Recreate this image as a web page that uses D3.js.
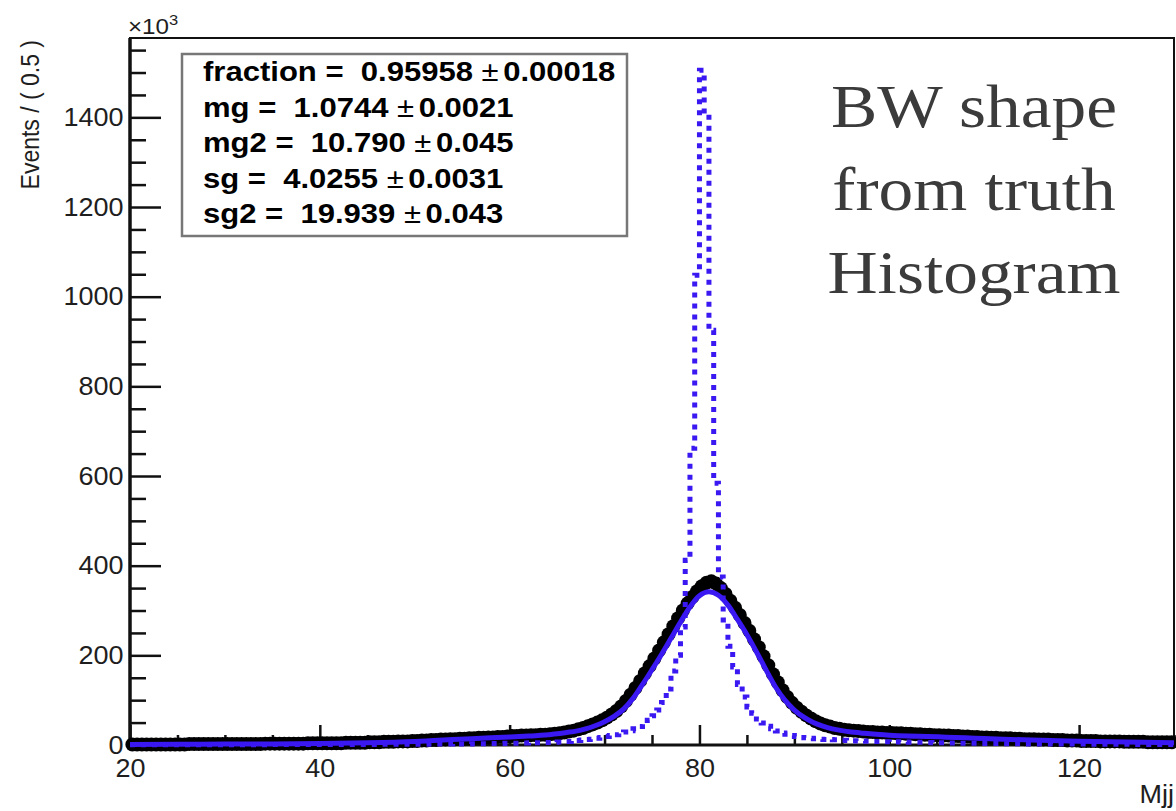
<!DOCTYPE html>
<html>
<head>
<meta charset="utf-8">
<title>Mjj fit</title>
<style>
  body, html { margin: 0; padding: 0; background: #fff; }
  svg { display: block; }
</style>
</head>
<body>
<svg id="svg" width="1176" height="811"></svg>

<script src="https://cdn.jsdelivr.net/npm/d3@7"></script>
<script>
  // histogram binning: Mjj from 20 to 130, bins of 0.5
  const mjjMin = 20, mjjMax = 130, binWidth = 0.5

  // black data points, events / bin (x10^3)
  const dataCounts = [
    1, 1, 1, 1, 1, 1, 1, 1, 1, 1,
    1, 1, 2, 2, 2, 2, 2, 2, 2, 2,
    2, 2, 2, 2, 2, 2, 2, 2, 3, 3,
    3, 3, 3, 3, 3, 3, 3, 4, 4, 4,
    4, 4, 4, 4, 4, 5, 5, 5, 5, 5,
    6, 6, 6, 7, 7, 7, 8, 8, 8, 9,
    9, 10, 10, 11, 11, 12, 12, 13, 13, 14,
    14, 15, 15, 16, 16, 17, 17, 18, 18, 19,
    20, 20, 21, 21, 22, 22, 23, 23, 24, 25,
    26, 28, 30, 32, 35, 38, 42, 46, 50, 55,
    61, 68, 76, 86, 98, 112, 127, 143, 160, 176,
    193, 211, 229, 247, 265, 283, 300, 316, 330, 343,
    354, 362, 365, 360, 350, 337, 322, 306, 290, 272,
    255, 236, 218, 198, 178, 158, 140, 122, 107, 94,
    83, 74, 66, 59, 53, 48, 44, 41, 38, 36,
    34, 33, 32, 31, 30, 29, 29, 28, 28, 27,
    27, 26, 26, 25, 25, 24, 24, 23, 23, 22,
    22, 21, 21, 20, 20, 19, 19, 18, 18, 17,
    17, 16, 16, 15, 15, 15, 14, 14, 13, 13,
    13, 12, 12, 12, 11, 11, 11, 10, 10, 10,
    9, 9, 9, 9, 8, 8, 8, 8, 8, 7,
    7, 7, 7, 7, 6, 6, 6, 6, 6, 6
  ]

  // BW shape from truth histogram (blue dotted), same bins
  const truthCounts = [
    0.5, 0.5, 0.5, 0.5, 0.5, 0.5, 0.5, 0.5, 0.5, 0.5,
    0.5, 0.5, 0.5, 0.5, 0.5, 0.5, 0.5, 0.5, 0.5, 0.5,
    0.5, 0.5, 0.5, 0.5, 0.5, 0.5, 0.5, 0.5, 0.5, 0.5,
    1, 1, 1, 1, 1, 1, 1, 1, 1, 1,
    1, 1, 1, 1, 1, 1, 1, 1, 1, 1,
    1, 1, 1, 1.5, 1.5, 1.5, 1.5, 1.5, 1.5, 1.5,
    1.5, 1.5, 1.5, 2, 2, 2, 2, 2, 2.5, 2.5,
    2.5, 2.5, 3, 3, 3, 3, 3.5, 3.5, 3.5, 4,
    4, 4, 4.5, 4.5, 5, 5, 5, 5.5, 5.5, 6,
    6.5, 7, 8, 9, 10, 11, 12, 13, 15, 17,
    19, 21, 23, 26, 29, 32, 36, 41, 47, 55,
    65, 78, 95, 125, 165, 200, 263, 412, 662, 1048,
    1505, 1400, 925, 584, 375, 279, 220, 174, 135, 107,
    85, 71, 58, 49, 42, 36, 31, 27, 24, 21,
    19, 17, 16, 15, 14, 13, 12.5, 12, 11.5, 11,
    10.5, 10, 9.5, 9, 9, 8.5, 8, 8, 7.5, 7.5,
    7, 7, 6.5, 6.5, 6, 6, 6, 5.5, 5.5, 5,
    5, 5, 4.5, 4.5, 4.5, 4, 4, 4, 4, 3.5,
    3.5, 3.5, 3.5, 3, 3, 3, 3, 3, 2.5, 2.5,
    2.5, 2.5, 2.5, 2.5, 2, 2, 2, 2, 2, 2,
    2, 2, 1.5, 1.5, 1.5, 1.5, 1.5, 1.5, 1.5, 1.5,
    1.5, 1, 1, 1, 1, 1, 1, 1, 1, 1
  ]

  // fitted pdf (blue solid), sampled along Mjj
  const fitMjj = [20, 25, 30, 35, 40, 45, 50, 52, 54, 56, 58,
    60, 61, 62, 63, 64, 65, 66, 67, 68, 69,
    70, 71, 72, 73, 74, 75, 76, 77, 78, 79,
    80, 81, 82, 83, 84, 85, 86, 87, 88, 89,
    90, 91, 92, 93, 94, 95, 96, 97, 98, 99,
    100, 102, 104, 106, 108, 110, 112, 115, 120, 125, 130]
  const fitCounts = [1, 1.5, 2, 2.5, 3.5, 5, 8, 10, 12, 14, 16,
    18, 19, 20, 21, 23, 25, 28, 31, 36, 43,
    52, 64, 80, 104, 135, 168, 202, 238, 274, 308,
    333, 342, 334, 312, 280, 246, 208, 168, 130, 100,
    78, 62, 50, 42, 36, 32, 29, 27, 25, 23.5,
    22, 20, 19, 17.5, 16, 14.5, 13, 11, 8.5, 6.5, 5]

  // fit parameters box
  const paramNames = ['fraction', 'mg', 'mg2', 'sg', 'sg2']
  const paramValues = ['0.95958', '1.0744', '10.790', '4.0255', '19.939']
  const paramErrors = ['0.00018', '0.0021', '0.045', '0.0031', '0.043']

  const noteLines = ['BW shape', 'from truth', 'Histogram']

  const xTickLabels = [20, 40, 60, 80, 100, 120]
  const yTickLabels = [0, 200, 400, 600, 800, 1000, 1200, 1400]

  const svg = d3.select('#svg')
  const blue = '#3a18f2'
  const sans = '"Liberation Sans", Arial, Helvetica, sans-serif'

  const xScale = d3.scaleLinear().domain([mjjMin, mjjMax]).range([130, 1174])
  const yScale = d3.scaleLinear().domain([0, 1577]).range([745, 38])

  // frame
  svg.append('rect')
    .attr('x', 130).attr('y', 38)
    .attr('width', 1044).attr('height', 707)
    .attr('fill', 'none').attr('stroke', '#111').attr('stroke-width', 2)

  // x axis: major + minor ticks pointing up
  const xMinor = d3.range(mjjMin, mjjMax + 0.1, 5).filter(v => !xTickLabels.includes(v))
  const gx = svg.append('g').attr('transform', 'translate(0,745)')
  gx.call(d3.axisBottom(xScale).tickValues(xTickLabels).tickSize(-20).tickPadding(14)
    .tickFormat(d3.format('d')))
  gx.append('g').call(d3.axisBottom(xScale).tickValues(xMinor).tickSize(-10).tickFormat(''))
  gx.selectAll('.domain').remove()
  gx.selectAll('line').attr('stroke', '#111').attr('stroke-width', 2.5)
  gx.selectAll('text')
    .style('font-size', '25px').style('font-family', sans)
    .attr('fill', '#1e1e1e')
    .attr('transform', 'scale(1.08,1)')

  // y axis: major + minor ticks pointing right
  const yMinor = d3.range(0, 1577, 50).filter(v => !yTickLabels.includes(v))
  const gy = svg.append('g').attr('transform', 'translate(130,0)')
  gy.call(d3.axisLeft(yScale).tickValues(yTickLabels).tickSize(-31).tickPadding(6)
    .tickFormat(d3.format('d')))
  gy.append('g').call(d3.axisLeft(yScale).tickValues(yMinor).tickSize(-16).tickFormat(''))
  gy.selectAll('.domain').remove()
  gy.selectAll('line').attr('stroke', '#111').attr('stroke-width', 2.5)
  gy.selectAll('text')
    .style('font-size', '25px').style('font-family', sans)
    .attr('fill', '#1e1e1e')
    .attr('transform', 'scale(1.08,1)')

  // thick axis lines
  svg.append('line').attr('x1', 130).attr('x2', 130).attr('y1', 38).attr('y2', 746)
    .attr('stroke', '#111').attr('stroke-width', 3.5)
  svg.append('line').attr('x1', 129).attr('x2', 1174).attr('y1', 745).attr('y2', 745)
    .attr('stroke', '#111').attr('stroke-width', 3)

  // axis titles
  svg.append('text')
    .attr('transform', 'translate(39,40) rotate(-90) scale(1,1.1)')
    .attr('text-anchor', 'end')
    .style('font-family', sans).style('font-size', '23px')
    .attr('fill', '#1e1e1e')
    .text('Events / ( 0.5 )')

  svg.append('text')
    .attr('transform', 'translate(1174,803) scale(1.08,1)')
    .attr('text-anchor', 'end')
    .style('font-family', sans).style('font-size', '25px')
    .attr('fill', '#1e1e1e')
    .text('Mjj')

  const expo = svg.append('text')
    .attr('transform', 'translate(128,34) scale(1.1,1)')
    .style('font-family', sans).style('font-size', '22px')
    .attr('fill', '#1e1e1e')
  expo.append('tspan').text('\u00d710')
  expo.append('tspan').attr('dy', -9).style('font-size', '15px').text('3')

  // data: black markers per bin
  const binCenters = dataCounts.map((d, i) => mjjMin + binWidth * (i + 0.5))
  svg.append('g')
    .selectAll('circle')
    .data(dataCounts)
    .join('circle')
    .attr('cx', (d, i) => xScale(binCenters[i]))
    .attr('cy', d => yScale(d))
    .attr('r', 7)
    .attr('fill', '#000')

  // truth histogram as a step contour
  const truthPts = truthCounts.map((d, i) => [mjjMin + binWidth * i, d])
  truthPts.push([mjjMax, truthCounts[truthCounts.length - 1]])
  const stepLine = d3.line()
    .x(d => xScale(d[0]))
    .y(d => yScale(d[1]))
    .curve(d3.curveStepAfter)
  svg.append('path')
    .attr('d', stepLine(truthPts))
    .attr('fill', 'none')
    .attr('stroke', blue)
    .attr('stroke-width', 5)
    .attr('stroke-dasharray', '5,6')

  // fit curve
  const fitLine = d3.line()
    .x((d, i) => xScale(fitMjj[i]))
    .y(d => yScale(d))
    .curve(d3.curveMonotoneX)
  svg.append('path')
    .attr('d', fitLine(fitCounts))
    .attr('fill', 'none')
    .attr('stroke', blue)
    .attr('stroke-width', 5)
    .attr('stroke-linejoin', 'round')

  // parameter box
  svg.append('rect')
    .attr('x', 182).attr('y', 54)
    .attr('width', 445).attr('height', 182)
    .attr('fill', '#fff').attr('stroke', '#777').attr('stroke-width', 2.5)

  paramNames.forEach((name, i) => {
    const t = svg.append('text')
      .attr('transform', `translate(203,${81 + i * 35.5}) scale(1.15,1)`)
      .style('font-family', sans).style('font-size', '27px')
      .style('font-weight', 'bold')
      .style('white-space', 'pre')
      .attr('fill', '#000')
    t.append('tspan').text(`${name} =  ${paramValues[i]} `)
    t.append('tspan').style('font-weight', 'normal').text('\u00b1')
    t.append('tspan').attr('dx', 4).text(paramErrors[i])
  })

  // annotation
  noteLines.forEach((line, i) => {
    svg.append('text')
      .attr('transform', `translate(974,${127 + i * 83}) scale(1.12,1)`)
      .attr('text-anchor', 'middle')
      .style('font-family', '"Liberation Serif", "DejaVu Serif", serif')
      .style('font-size', '62px')
      .attr('fill', '#3b3b3b')
      .text(line)
  })
</script>
</body>
</html>
